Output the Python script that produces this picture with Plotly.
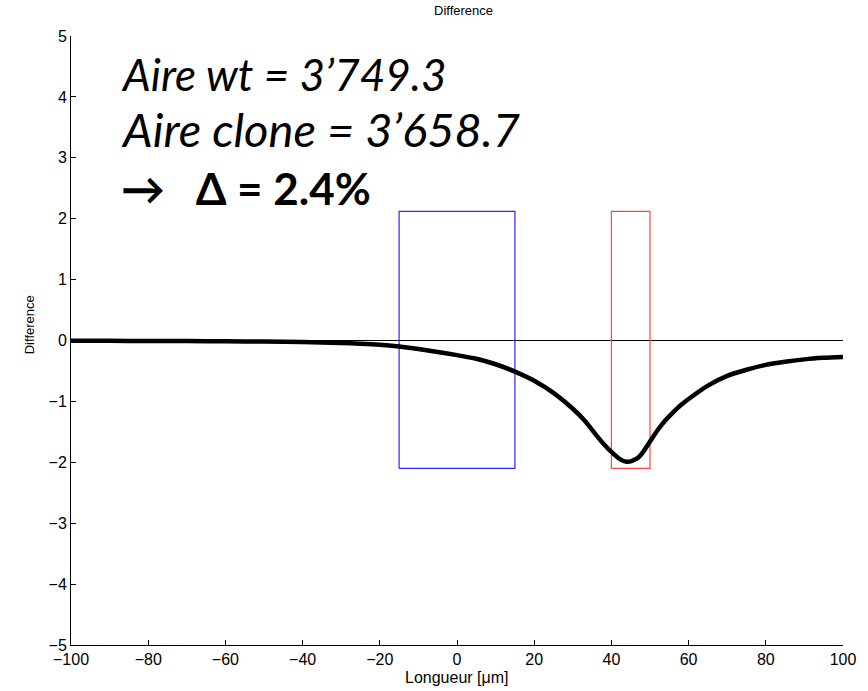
import plotly.graph_objects as go

# ---- data ----
x_vals = [-100, -90, -80, -70, -60, -50, -40, -30, -25, -20, -15, -10, -5, 0, 5, 10, 15,
          20, 25, 30, 33, 36, 38, 40, 42, 43, 44, 45, 46, 47, 48, 50, 52, 54, 56, 58, 60,
          65, 70, 75, 80, 85, 90, 95, 100]
y_vals = [-0.004, -0.006, -0.008, -0.010, -0.013, -0.018, -0.026, -0.040, -0.052, -0.07, -0.10, -0.14, -0.19, -0.24, -0.30, -0.39, -0.51,
          -0.66, -0.86, -1.12, -1.31, -1.55, -1.70, -1.83, -1.94, -1.975, -1.99, -1.985, -1.96, -1.92, -1.85, -1.66, -1.47, -1.31, -1.18, -1.06, -0.96,
          -0.74, -0.58, -0.48, -0.40, -0.35, -0.31, -0.285, -0.27]

zero_x = [-100, 100]
zero_y = [0, 0]

blue_box_x = [-15, 15]
red_box_x = [40, 50]
box_y = [-2.1, 2.12]

x_ticks = [-100, -80, -60, -40, -20, 0, 20, 40, 60, 80, 100]
y_ticks = [-5, -4, -3, -2, -1, 0, 1, 2, 3, 4, 5]

title_text = "Difference"
xlabel_text = "Longueur [\u03bcm]"
ylabel_text = "Difference"
note_lines = ["<i>Aire wt = 3\u2019749.3</i>",
              "<i>Aire clone = 3\u2019658.7</i>",
              "<b>\u2192   \u0394 = 2.4%</b>"]
note_y = [4.37, 3.47, 2.50]
note_size = [44, 47, 44]


def rect(xs, ys):
    return ([xs[0], xs[1], xs[1], xs[0], xs[0]], [ys[0], ys[0], ys[1], ys[1], ys[0]])


fig = go.Figure()

fig.add_trace(go.Scatter(x=zero_x, y=zero_y, mode="lines",
                         line=dict(color="black", width=1), hoverinfo="skip"))
bx, by = rect(blue_box_x, box_y)
fig.add_trace(go.Scatter(x=bx, y=by, mode="lines",
                         line=dict(color="rgb(40,40,255)", width=1.2), hoverinfo="skip"))
rx, ry = rect(red_box_x, box_y)
fig.add_trace(go.Scatter(x=rx, y=ry, mode="lines",
                         line=dict(color="rgb(255,70,70)", width=1.2), hoverinfo="skip"))
fig.add_trace(go.Scatter(x=x_vals, y=y_vals, mode="lines",
                         line=dict(color="black", width=4.5, shape="spline", smoothing=0.6),
                         hoverinfo="skip"))

axis_font = dict(family="Liberation Sans, Arial, sans-serif", size=16, color="black")

fig.update_layout(
    width=868, height=691,
    margin=dict(l=71, r=25, t=36, b=46),
    plot_bgcolor="white", paper_bgcolor="white",
    showlegend=False,
    xaxis=dict(range=[-100, 100], tickvals=x_ticks, ticks="inside", ticklen=5,
               tickcolor="black", showline=True, linecolor="black", linewidth=1,
               showgrid=False, zeroline=False, tickfont=axis_font, mirror=False),
    yaxis=dict(range=[-5, 5], tickvals=y_ticks, ticks="inside", ticklen=5,
               tickcolor="black", showline=True, linecolor="black", linewidth=1,
               showgrid=False, zeroline=False, tickfont=axis_font, mirror=False),
)

annotations = [
    dict(text=title_text, x=0.509, y=1, xref="paper", yref="paper",
         xanchor="center", yanchor="middle", yshift=26, showarrow=False,
         font=dict(family="Liberation Sans, Arial, sans-serif", size=13, color="black")),
    dict(text=xlabel_text, x=0.5, y=0, xref="paper", yref="paper",
         xanchor="center", yanchor="top", yshift=-22, showarrow=False,
         font=dict(family="Liberation Sans, Arial, sans-serif", size=16, color="black")),
    dict(text=ylabel_text, x=0, y=0.525, xref="paper", yref="paper", textangle=-90,
         xanchor="center", yanchor="middle", xshift=-42, showarrow=False,
         font=dict(family="Liberation Sans, Arial, sans-serif", size=13, color="black")),
]
for t, yy, fs in zip(note_lines, note_y, note_size):
    annotations.append(dict(text=t, x=-87.5, y=yy, xref="x", yref="y",
                            xanchor="left", yanchor="middle", showarrow=False,
                            font=dict(family="Lato, Carlito, sans-serif", size=fs, color="black")))
fig.update_layout(annotations=annotations)

fig.write_html("out.html", config={"displayModeBar": False},
               post_script="document.body.style.margin='0px';")
